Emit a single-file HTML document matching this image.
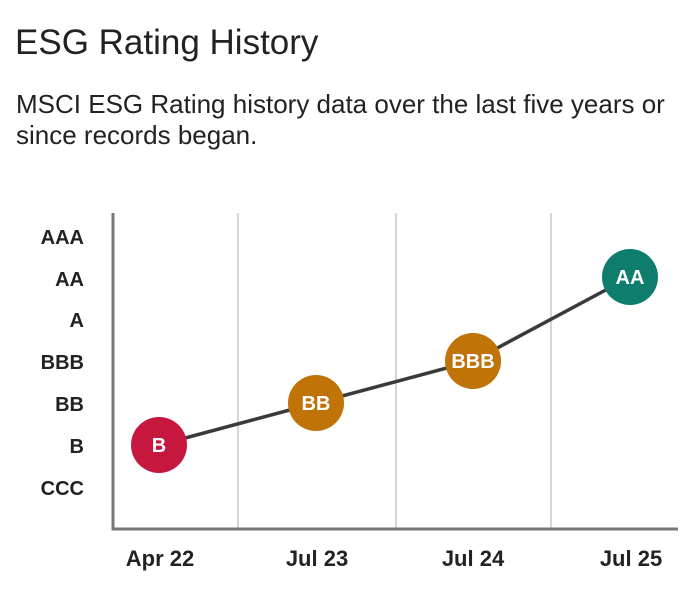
<!DOCTYPE html>
<html><head><style>
body{margin:0;background:#fff;width:700px;height:591px;overflow:hidden;font-family:"Liberation Sans",sans-serif;}
.t{position:absolute;left:15px;top:23px;font-size:35px;color:#222;}
.s{position:absolute;left:16px;top:89px;font-size:26px;line-height:31px;color:#222;}
</style></head><body>
<div class="t">ESG Rating History</div>
<div class="s">MSCI ESG Rating history data over the last five years or<br>since records began.</div>
<svg width="700" height="591" style="position:absolute;left:0;top:0">
<g stroke="#c8c8c8" stroke-width="1.5"><line x1="238" y1="213" x2="238" y2="529"/><line x1="396" y1="213" x2="396" y2="529"/><line x1="551" y1="213" x2="551" y2="529"/></g>
<polyline points="113,213 113,529 678,529" fill="none" stroke="#777" stroke-width="3"/>
<g font-family="Liberation Sans" font-weight="bold" font-size="20" fill="#222" text-anchor="end">
<text x="84" y="244">AAA</text><text x="84" y="286">AA</text><text x="84" y="327">A</text><text x="84" y="369">BBB</text><text x="84" y="411">BB</text><text x="84" y="453">B</text><text x="84" y="495">CCC</text></g>
<g font-family="Liberation Sans" font-weight="bold" font-size="22" fill="#222" text-anchor="middle">
<text x="160" y="566">Apr 22</text><text x="317" y="566">Jul 23</text><text x="473" y="566">Jul 24</text><text x="631" y="566">Jul 25</text></g>
<polyline points="159,445 316,403 473,361 630,277" fill="none" stroke="#3a3a3a" stroke-width="3.5"/>
<circle cx="159" cy="445" r="28" fill="#c8173f"/>
<circle cx="316" cy="403" r="28" fill="#c07306"/>
<circle cx="473" cy="361" r="28" fill="#c07306"/>
<circle cx="630" cy="277" r="28" fill="#0e7d6e"/>
<g font-family="Liberation Sans" font-weight="bold" font-size="20" fill="#fff" text-anchor="middle">
<text x="159" y="452">B</text><text x="316" y="410">BB</text><text x="473" y="368">BBB</text><text x="630" y="284">AA</text></g>
</svg>
</body></html>
